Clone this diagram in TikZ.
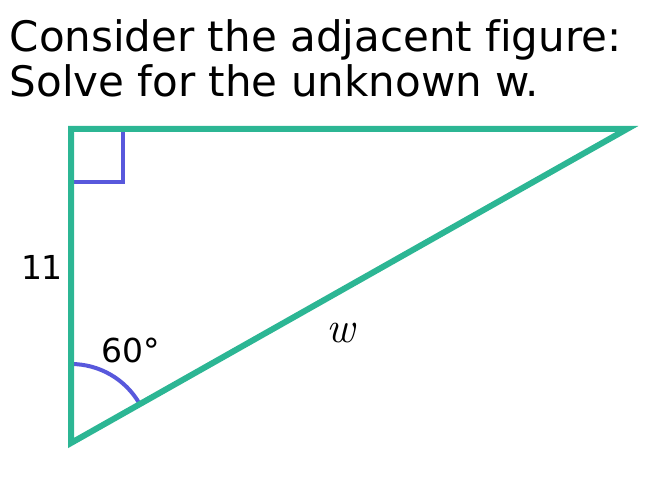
\documentclass[tikz,border=0pt]{standalone}
\usepackage{fontspec}
\newfontfamily\dejavu[Ligatures=NoCommon]{DejaVu Sans}
\usetikzlibrary{positioning}
\definecolor{legteal}{RGB}{44,182,148}
\definecolor{markblue}{RGB}{88,88,220}
\tikzset{leg/.style={draw=legteal, line width=6pt},
    mark line/.style={draw=markblue, line width=4pt},
    lbl/.style={inner sep=0pt, font=\dejavu\fontsize{33}{33}\selectfont}}
\begin{document}
\begin{tikzpicture}[x=1pt, y=1pt]
        \useasboundingbox (0,0) rectangle (652,477);
        \node[anchor=base west, inner sep=0pt, align=left,
              font=\dejavu\fontsize{42}{45}\selectfont] (title) at (9.5,380)
              {Consider the adjacent figure:\\Solve for the unknown w.};
        \coordinate (A) at (71,348);
        \coordinate (B) at (627,348);
        \coordinate (C) at (71,34);
        %right angle and angle mark
        \draw[mark line] (71,295) -- (123,295) -- (123,348);
        \draw[mark line] (71,113) arc[start angle=90, end angle=30, radius=79];
        \draw[leg] (A) -- (B) -- (C) -- cycle;
        \node[lbl] (side) at (42,210) {11};
        \node[lbl] (angle) at (131,127) {60°};
        \node[inner sep=0pt, font=\itshape\fontsize{44}{44}\selectfont] (hyp) at (341,144) {w};
    \end{tikzpicture}
\end{document}
